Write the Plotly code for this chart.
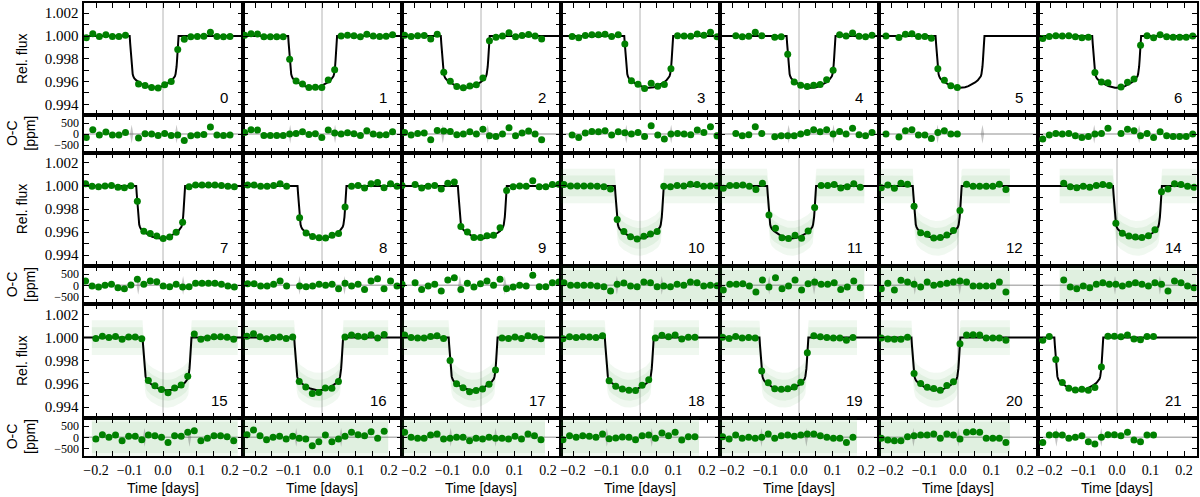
import numpy as np
import plotly.graph_objects as go

W, H = 1200, 497

# ---------------- data ----------------
panel_labels = ["0", "1", "2", "3", "4", "5", "6",
                "7", "8", "9", "10", "11", "12", "14",
                "15", "16", "17", "18", "19", "20", "21"]

# mid-transit time of each epoch (days, relative to predicted)
mid_times = [-0.0265, -0.028, -0.047, 0.026, 0.036, 0.006, -0.001,
             -0.007, 0.0, 0.004, -0.002, -0.022, -0.062, 0.061,
             0.012, -0.010, -0.0235, -0.032, -0.045, -0.066, -0.114]

# time of first and last binned point
bin_first = [-0.229, -0.231, -0.228, -0.2026, -0.1886, -0.215, -0.2216,
             -0.231, -0.222, -0.2357, -0.227, -0.226, -0.229, -0.159,
             -0.2005, -0.224, -0.228, -0.230, -0.228, -0.229, -0.2216]
bin_last = [0.200, 0.2106, 0.181, 0.230, 0.218, -0.002, 0.226,
            0.213, 0.224, 0.2325, 0.230, 0.183, 0.143, 0.230,
            0.211, 0.1856, 0.179, 0.164, 0.161, 0.143, 0.109]

# whether unbinned (raw) photometry is shown
has_raw = [False, False, False, False, False, False, False,
           False, False, False, True, True, True, True,
           True, True, True, True, True, True, False]

# binned O-C residuals (ppm); None = empty bin
oc_p0 = [-150, 200, -45, 100, -45, -45, 75, None, -180, 15, 0, -60, 30, -60, -45, -290, -75, -45, -15, 320, -45, -60, -45]
oc_p1 = [75, 195, 180, -60, -60, -60, -60, 0, 30, 105, -15, 15, -150, 180, 45, 0, 60, 15, -60, 150, 0, -45, -30, 105]
oc_p2 = [75, -45, 30, 45, -255, 165, 135, 120, -30, 0, 105, 0, 225, -75, -105, 0, 285, -75, 45, 135, 0, -255]
oc_p3 = [-45, -150, 45, 120, 105, 150, -45, 105, 60, 0, 75, -105, 375, -45, -225, 0, 30, 0, -30, 180, 75, 330, -75]
oc_p4 = [30, -75, -30, 330, 30, None, -120, -75, -75, -75, 0, 75, 195, 105, 195, 0, 120, 0, 270, -30, -75, 75]
oc_p5 = [0, None, -135, 150, 195, -45, -45, -195, 75, 150, 0, 0]
oc_p6 = [-225, -45, 30, 0, 30, -75, -150, -105, 0, 30, 270, None, 30, 225, 150, -75, 30, -150, 105, -75, -105, -105, -105, 0]
oc_p7 = [195, -30, -75, 0, 45, -105, -150, 15, 270, 45, 195, 165, -30, -60, 45, -75, -60, 90, 90, 90, 90, 45, -30, -75]
oc_p8 = [75, 75, -30, -30, 45, 195, -30, None, -30, -60, -30, 45, 0, 45, -150, 90, -30, 45, -180, 195, 300, -150, 195, -30]
oc_p9 = [45, None, 120, -180, -30, 45, -255, 240, 345, -180, 90, -75, 75, 195, 0, 270, -150, -75, 0, -30, 450, -60, -60, 120, 150]
oc_p10 = [120, 0, 0, 0, 0, -30, -60, -255, 45, 100, -30, -60, 150, 120, -60, -30, -60, 45, 0, 150, 120, -30, 0, -15]
oc_p11 = [-210, 45, 45, 75, -30, -300, 240, -75, 345, -150, -30, 240, -210, 75, 150, 45, 45, 120, -180, -75, 195, -105]
oc_p12 = [-150, 90, -210, 225, 150, 45, -75, 150, 0, 45, 90, 150, 195, 150, -30, -30, -30, -30, 150, -300]
oc_p14 = [240, -75, -150, -30, -105, 45, 120, 45, 45, -30, 45, 120, 45, -30, 120, 45, -255, 195, 120, -30, -105]
oc_p15 = [-75, 120, 0, 105, -150, 45, 45, -105, 105, 75, 0, -225, 75, 45, 225, 300, -150, -45, 75, 75, 30, -150]
oc_p16 = [120, 330, 75, -105, 0, 45, -75, 45, -45, -75, -375, -195, 105, -195, -75, 45, 225, 120, 75, 255, -45, 270]
oc_p17 = [225, 0, -45, -45, 105, 150, -75, -45, 0, 0, -150, -45, -75, 0, -45, -45, -75, 45, -75, 150, 75, -105]
oc_p18 = [-105, 75, 0, 75, 45, 0, 150, -60, -30, 15, 0, -105, 75, 105, -45, 195, 75, 225, -120, 30, 30]
oc_p19 = [30, -75, 105, -45, 0, -45, 0, 150, -45, 75, 105, 45, 105, 150, 150, 75, 0, -45, -45, -225, 0]
oc_p20 = [-45, -120, -150, -150, 30, 75, 105, 105, 150, -45, 150, 105, -75, 225, 255, 225, -45, -45, -45, -225]
oc_p21 = [-225, 105, 120, 105, -45, 0, 75, -195, -300, 0, 120, 120, 75, 225, -120, -195, 105, 105]

oc_all = [oc_p0, oc_p1, oc_p2, oc_p3, oc_p4, oc_p5, oc_p6,
          oc_p7, oc_p8, oc_p9, oc_p10, oc_p11, oc_p12, oc_p14,
          oc_p15, oc_p16, oc_p17, oc_p18, oc_p19, oc_p20, oc_p21]

# transit model shape, time from mid-transit (days) and relative flux
model_dt = [-0.0730, -0.0715, -0.0700, -0.0685, -0.0670, -0.0655, -0.0640, -0.0620,
            -0.0590, -0.0530, -0.0450, -0.0350, -0.0250, -0.0150, -0.0050, 0.0,
            0.0050, 0.0150, 0.0250, 0.0350, 0.0450, 0.0530, 0.0590, 0.0620,
            0.0640, 0.0655, 0.0670, 0.0685, 0.0700, 0.0715, 0.0730]
model_flux = [1.0, 0.99935, 0.99862, 0.99790, 0.99730, 0.99690, 0.99665, 0.99645,
              0.99628, 0.99610, 0.99592, 0.99574, 0.99560, 0.99550, 0.99546, 0.99545,
              0.99546, 0.99550, 0.99560, 0.99574, 0.99592, 0.99610, 0.99628, 0.99645,
              0.99665, 0.99690, 0.99730, 0.99790, 0.99862, 0.99935, 1.0]
contact_mid = 0.067   # ingress/egress mid-point from mid-transit (days)
raw_scatter_flux = [0.0015, 0.0009]
raw_scatter_ppm = [1200, 700]

x_ticks = [-0.2, -0.15, -0.1, -0.05, 0.0, 0.05, 0.1, 0.15, 0.2]
x_ticktext = ["\u22120.2", "", "\u22120.1", "", "0.0", "", "0.1", "", "0.2"]
flux_ticks = [0.994, 0.995, 0.996, 0.997, 0.998, 0.999, 1.000, 1.001, 1.002]
flux_ticktext = ["0.994", "", "0.996", "", "0.998", "", "1.000", "", "1.002"]
oc_ticks = [-500, 0, 500]
oc_ticktext = ["\u2212500", "0", "500"]

# ---------------- layout geometry (pixels) ----------------
XR = [-0.2373, 0.2373]
FLUX_R = [0.99306, 1.0029]
OC_R = [-832, 864]
col_left, col_w = 83.5, 159.0
rows_px = [(3, 115, 152.5), (152.5, 266, 304), (304, 418, 456)]

mdt = np.array(model_dt)
mfl = np.array(model_flux)


def model(t, tc):
    return np.interp(np.asarray(t) - tc, mdt, mfl, left=1.0, right=1.0)


def ax_name(kind, n):
    return kind + "axis" + ("" if n == 1 else str(n))


def ref(kind, n):
    return kind + ("" if n == 1 else str(n))


fig = go.Figure()
layout = dict(width=W, height=H, margin=dict(l=0, r=0, t=0, b=0, autoexpand=False),
              plot_bgcolor="white", paper_bgcolor="white", showlegend=False)
shapes = []
annotations = []

base = dict(showline=True, linecolor="black", linewidth=2, mirror="ticks",
            ticks="inside", ticklen=5, tickwidth=1.2, tickcolor="black",
            showgrid=False, zeroline=False, automargin=False,
            tickfont=dict(family="Liberation Serif", size=15, color="black"))
xfont = dict(family="Liberation Serif", size=14, color="black")
ocfont = dict(family="Liberation Serif", size=12, color="black")

GREEN = "#008000"

for k in range(21):
    c, r = k % 7, k // 7
    fa, oa = 2 * k + 1, 2 * k + 2
    left = col_left + c * col_w
    right = left + col_w
    top, mid, bot = rows_px[r]
    xd = [left / W, right / W]
    tc = mid_times[k]
    oc = oc_all[k]
    n = len(oc)
    tb = np.linspace(bin_first[k], bin_last[k], n)

    # axes
    layout[ax_name("x", fa)] = dict(base, domain=xd, range=XR, anchor=ref("y", fa),
                                    tickvals=x_ticks, ticktext=x_ticktext,
                                    showticklabels=False)
    layout[ax_name("y", fa)] = dict(base, domain=[1 - mid / H, 1 - top / H], range=FLUX_R,
                                    anchor=ref("x", fa), tickvals=flux_ticks,
                                    ticktext=flux_ticktext, showticklabels=(c == 0))
    layout[ax_name("x", oa)] = dict(base, domain=xd, range=XR, anchor=ref("y", oa),
                                    tickvals=x_ticks, ticktext=x_ticktext,
                                    showticklabels=(r == 2), tickfont=xfont)
    layout[ax_name("y", oa)] = dict(base, domain=[1 - bot / H, 1 - mid / H], range=OC_R,
                                    anchor=ref("x", oa), tickvals=oc_ticks,
                                    ticktext=oc_ticktext, showticklabels=(c == 0),
                                    tickfont=ocfont)

    # reference lines
    shapes.append(dict(type="line", xref=ref("x", fa), yref=ref("y", fa) + " domain",
                       x0=0, x1=0, y0=0, y1=1, layer="below",
                       line=dict(color="#b4b4b4", width=1)))
    shapes.append(dict(type="line", xref=ref("x", oa) + " domain", yref=ref("y", oa),
                       x0=0, x1=1, y0=0, y1=0, layer="below",
                       line=dict(color="#b4b4b4", width=1.5)))

    # raw photometry cloud (shown as scatter envelope)
    if has_raw[k]:
        t0 = max(bin_first[k] - 0.012, XR[0])
        t1 = min(bin_last[k] + 0.012, XR[1])
        tt = np.linspace(t0, t1, 300)
        mm = model(tt, tc)
        for wf, wp, a in zip(raw_scatter_flux, raw_scatter_ppm, (0.07, 0.08)):
            fig.add_trace(go.Scatter(
                x=np.concatenate([tt, tt[::-1]]),
                y=np.concatenate([mm + wf, (mm - wf)[::-1]]),
                fill="toself", fillcolor="rgba(40,150,40,%.2f)" % a, line=dict(width=0),
                mode="lines", hoverinfo="skip", xaxis=ref("x", fa), yaxis=ref("y", fa)))
            fig.add_trace(go.Scatter(
                x=[t0, t1, t1, t0, t0],
                y=[-wp, -wp, wp, wp, -wp],
                fill="toself", fillcolor="rgba(40,150,40,%.2f)" % a, line=dict(width=0),
                mode="lines", hoverinfo="skip", xaxis=ref("x", oa), yaxis=ref("y", oa)))

    # model uncertainty smears at ingress / egress
    for tcont in (tc - contact_mid, tc + contact_mid):
        fig.add_trace(go.Scatter(
            x=[tcont - 0.005, tcont, tcont + 0.005, tcont, tcont - 0.005],
            y=[0, 420, 0, -420, 0], fill="toself",
            fillcolor="rgba(110,110,110,0.40)", line=dict(width=0),
            mode="lines", hoverinfo="skip", xaxis=ref("x", oa), yaxis=ref("y", oa)))

    # model curve
    mx = np.concatenate([[XR[0] - 0.02], mdt + tc, [XR[1] + 0.02]])
    my = np.concatenate([[1.0], mfl, [1.0]])
    fig.add_trace(go.Scatter(x=mx, y=my, mode="lines",
                             line=dict(color="black", width=2),
                             hoverinfo="skip", xaxis=ref("x", fa), yaxis=ref("y", fa)))

    # binned data
    ocv = np.array([np.nan if v is None else v for v in oc], dtype=float)
    fb = model(tb, tc) + ocv * 1e-6
    fig.add_trace(go.Scatter(x=tb, y=fb, mode="markers",
                             marker=dict(color=GREEN, size=7),
                             xaxis=ref("x", fa), yaxis=ref("y", fa)))
    fig.add_trace(go.Scatter(x=tb, y=ocv, mode="markers",
                             marker=dict(color=GREEN, size=7),
                             xaxis=ref("x", oa), yaxis=ref("y", oa)))

    # panel number
    annotations.append(dict(x=(right - 13) / W, y=1 - (mid - 18) / H, xref="paper", yref="paper",
                            text=panel_labels[k], showarrow=False, xanchor="right",
                            yanchor="middle",
                            font=dict(family="Liberation Sans", size=15, color="black")))

# axis titles
sans = dict(family="Liberation Sans", size=14, color="black")
for r in range(3):
    top, mid, bot = rows_px[r]
    annotations.append(dict(x=22 / W, y=1 - (top + mid) / 2 / H, xref="paper", yref="paper",
                            text="Rel. flux", textangle=-90, showarrow=False,
                            xanchor="center", yanchor="middle", font=sans))
    annotations.append(dict(x=21 / W, y=1 - (mid + bot) / 2 / H, xref="paper", yref="paper",
                            text="O-C<br>[ppm]", textangle=-90, showarrow=False,
                            xanchor="center", yanchor="middle", font=sans))
for c in range(7):
    annotations.append(dict(x=(col_left + (c + 0.5) * col_w) / W, y=1 - 488 / H,
                            xref="paper", yref="paper", text="Time [days]",
                            showarrow=False, xanchor="center", yanchor="middle", font=sans))

layout["shapes"] = shapes
layout["annotations"] = annotations
fig.update_layout(**layout)
fig.write_html("out.html", config={"displayModeBar": False},
               post_script="document.body.style.margin='0';document.body.style.padding='0';")
